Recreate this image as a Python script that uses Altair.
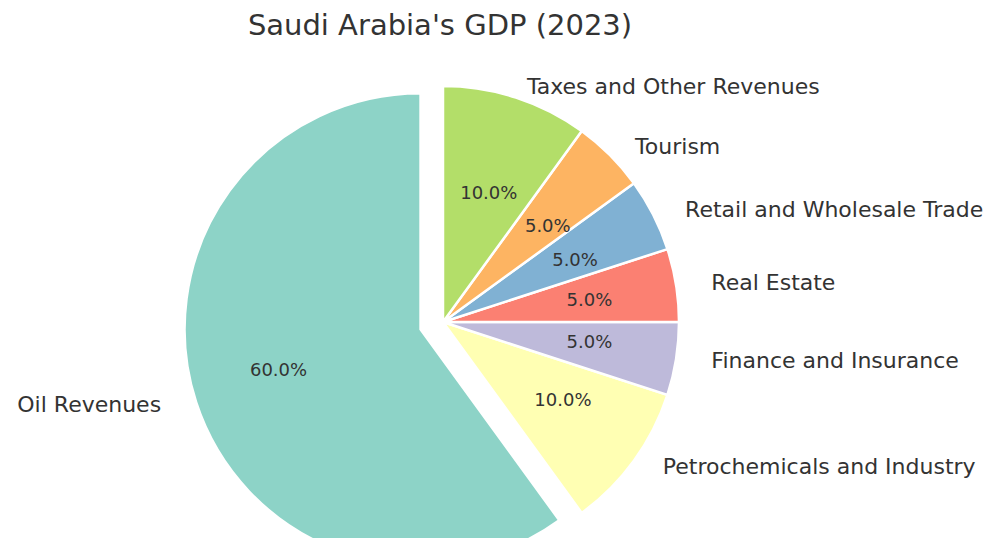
import altair as alt
import pandas as pd

labels = ["Oil Revenues", "Petrochemicals and Industry", "Finance and Insurance",
          "Real Estate", "Retail and Wholesale Trade", "Tourism", "Taxes and Other Revenues"]
shares = [60, 10, 5, 5, 5, 5, 10]
explode = [0.1, 0, 0, 0, 0, 0, 0]
colors = ["#8dd3c7", "#ffffb3", "#bebada", "#fb8072", "#80b1d3", "#fdb462", "#b3de69"]
title_text = "Saudi Arabia's GDP (2023)"

CX, CY, R = 435, 314, 236      # pie centre and radius (chart pixels)
RX, RY = 247, 225              # radii used for label placement
FONT = "DejaVu Sans"
TXT = "#333333"

df = pd.DataFrame({"label": labels, "share": shares, "explode": explode,
                   "idx": list(range(len(labels)))})

base = (
    alt.Chart(df)
    .transform_joinaggregate(total="sum(share)")
    .transform_window(cum="sum(share)", sort=[alt.SortField("idx")], frame=[None, 0])
    .transform_calculate(t0="2*PI*(1 - datum.cum/datum.total)")
    .transform_calculate(t1="2*PI*(1 - (datum.cum - datum.share)/datum.total)")
    .transform_calculate(mid="(datum.t0 + datum.t1)/2")
    .transform_calculate(cx=f"{CX} + datum.explode*{R}*sin(datum.mid)")
    .transform_calculate(cy=f"{CY} - datum.explode*{R}*cos(datum.mid)")
    .transform_calculate(tx=f"{CX} + datum.explode*{RX}*sin(datum.mid)")
    .transform_calculate(ty=f"{CY} - datum.explode*{RY}*cos(datum.mid)")
    .transform_calculate(lx=f"datum.tx + 1.1*{RX}*sin(datum.mid)")
    .transform_calculate(ly=f"datum.ty - 1.1*{RY}*cos(datum.mid)")
    .transform_calculate(px=f"datum.tx + 0.6*{RX}*sin(datum.mid)")
    .transform_calculate(py=f"datum.ty - 0.6*{RY}*cos(datum.mid)")
    .transform_calculate(pct="format(datum.share/datum.total*100, '.1f') + '%'")
)

arcs = base.mark_arc(radius=R, stroke="white", strokeWidth=2.5).encode(
    x=alt.X("cx:Q", scale=None, axis=None),
    y=alt.Y("cy:Q", scale=None, axis=None),
    theta=alt.Theta("t0:Q", scale=None, stack=False),
    theta2="t1:Q",
    color=alt.Color("label:N", scale=alt.Scale(domain=labels, range=colors), legend=None),
)

lab_right = base.transform_filter("sin(datum.mid) > 0").mark_text(
    align="left", baseline="middle", fontSize=22, font=FONT, color=TXT
).encode(
    x=alt.X("lx:Q", scale=None, axis=None),
    y=alt.Y("ly:Q", scale=None, axis=None),
    text="label:N",
)

lab_left = base.transform_filter("sin(datum.mid) <= 0").mark_text(
    align="right", baseline="middle", fontSize=22, font=FONT, color=TXT
).encode(
    x=alt.X("lx:Q", scale=None, axis=None),
    y=alt.Y("ly:Q", scale=None, axis=None),
    text="label:N",
)

pcts = base.mark_text(
    align="center", baseline="middle", fontSize=18, font=FONT, color=TXT
).encode(
    x=alt.X("px:Q", scale=None, axis=None),
    y=alt.Y("py:Q", scale=None, axis=None),
    text="pct:N",
)

title = alt.Chart(pd.DataFrame({"t": [title_text]})).mark_text(
    align="center", baseline="alphabetic", fontSize=29, font=FONT, color=TXT
).encode(
    x=alt.value(432), y=alt.value(27), text="t:N"
)

chart = alt.layer(arcs, lab_right, lab_left, pcts, title).properties(
    width=977, height=530,
    autosize=alt.AutoSizeParams(type="none"),
    padding=0,
).configure_view(stroke=None)

chart.save("out.html", embed_options={"renderer": "svg", "actions": False})
